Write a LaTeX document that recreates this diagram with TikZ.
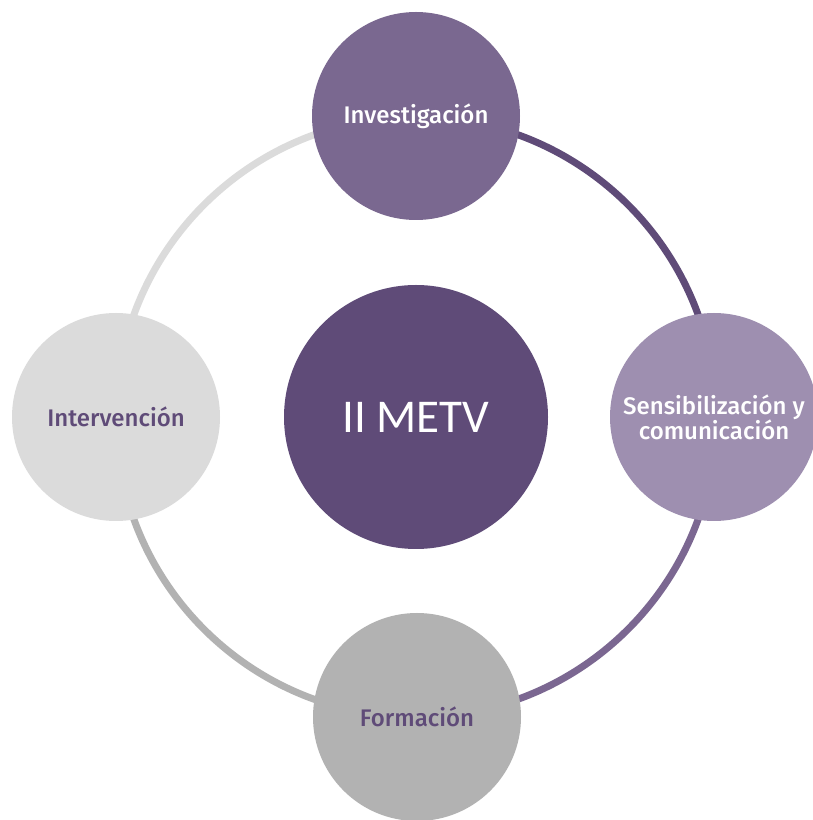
\documentclass[tikz,border=0pt]{standalone}
\usepackage{fontspec}
\setmainfont{Fira Sans Medium}
\newfontfamily\metvfont{Carlito}
\definecolor{cmain}{HTML}{5F4B78}
\definecolor{ctop}{HTML}{7A6890}
\definecolor{cright}{HTML}{9E8FB0}
\definecolor{cleft}{HTML}{DBDBDB}
\definecolor{cbottom}{HTML}{B2B2B2}
\definecolor{arcbr}{HTML}{7B6791}
\tikzset{
  bubble/.style={circle, inner sep=0pt, minimum size=208pt, align=center, font=\fontsize{24}{25}\selectfont},
  ring/.style={line width=7pt},
}
\begin{document}
\begin{tikzpicture}[x=1pt,y=1pt]
\useasboundingbox (0,0) rectangle (812,820);
\fill[white] (0,0) rectangle (812,820);
\coordinate (o) at (416,403);
\coordinate (pt) at (416,703);
\coordinate (pr) at (716,403);
\coordinate (pb) at (416,103);
\coordinate (pl) at (116,403);
\draw[ring, cmain] (pt) arc[start angle=90, end angle=0, radius=300];
\draw[ring, arcbr] (pr) arc[start angle=0, end angle=-90, radius=300];
\draw[ring, cbottom] (pb) arc[start angle=270, end angle=180, radius=300];
\draw[ring, cleft] (pl) arc[start angle=180, end angle=90, radius=300];
\node[circle, inner sep=0pt, minimum size=264pt, fill=cmain, text=white, font=\metvfont\fontsize{47}{50}\selectfont] (c) at (o) {II METV};
\node[bubble, fill=ctop, text=white] (t) at (416,704) {Investigación};
\node[bubble, fill=cright, text=white] (r) at (714,403) {Sensibilización y\\comunicación};
\node[bubble, fill=cbottom, text=cmain] (b) at (417,103) {Formación};
\node[bubble, fill=cleft, text=cmain] (l) at (116,403) {Intervención};
\end{tikzpicture}
\end{document}
